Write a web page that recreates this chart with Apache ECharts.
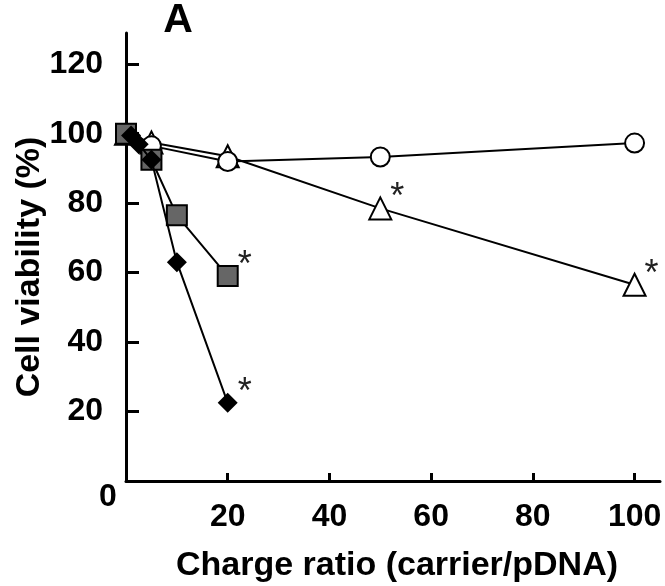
<!DOCTYPE html>
<html><head><meta charset="utf-8">
<script src="https://cdn.jsdelivr.net/npm/echarts@6/dist/echarts.min.js"></script>
<style>html,body{margin:0;padding:0;background:#fff}#c{width:665px;height:586px}</style>
</head><body><div id="c"></div>
<script>
// Data
const squareX = [0, 5, 10, 20];
const squareY = [100, 92.5, 76.5, 59];
const squareStarAt = [20];

const diamondX = [1, 2.5, 5, 10, 20];
const diamondY = [99.5, 97, 92.5, 63, 22.5];
const diamondStarAt = [20];

const triangleX = [0, 5, 20, 50, 100];
const triangleY = [100, 97.5, 93.5, 78.5, 56.5];
const triangleStarAt = [50, 100];

const circleX = [0, 5, 20, 50, 100];
const circleY = [100, 96.5, 92, 93.3, 97.3];
const circleStarAt = [];

const xTickLabels = [20, 40, 60, 80, 100];
const yTickLabels = [20, 40, 60, 80, 100, 120];

const FONT = "'Liberation Sans', Arial, sans-serif";

function build(xs, ys, stars) {
  return xs.map((x, i) => {
    const item = { value: [x, ys[i]] };
    if (stars.indexOf(x) >= 0) {
      item.label = {
        show: true, formatter: '*', position: 'inside', offset: [17, -10],
        fontSize: 36, color: '#222', fontFamily: FONT
      };
    }
    return item;
  });
}

const lineStyle = { color: '#000', width: 2 };

const chart = echarts.init(document.getElementById('c'), null, { renderer: 'canvas' });
chart.setOption({
  animation: false,
  backgroundColor: '#fff',
  grid: { left: 126, top: 33, right: 5, bottom: 105, containLabel: false, outerBoundsMode: 'none' },
  xAxis: {
    type: 'value', min: 0, max: 105,
    axisLine: { onZero: false, lineStyle: { color: '#000', width: 3 } },
    axisTick: { inside: true, length: 8, lineStyle: { color: '#000', width: 3 }, customValues: xTickLabels },
    axisLabel: { customValues: xTickLabels, margin: 20, fontFamily: FONT, fontWeight: 'bold', fontSize: 32, color: '#000' },
    splitLine: { show: false }
  },
  yAxis: {
    type: 'value', min: 0, max: 129,
    axisLine: { lineStyle: { color: '#000', width: 3 } },
    axisTick: { inside: true, length: 13, lineStyle: { color: '#000', width: 3 }, customValues: yTickLabels },
    axisLabel: { customValues: yTickLabels, margin: 23, fontFamily: FONT, fontWeight: 'bold', fontSize: 32, color: '#000' },
    splitLine: { show: false }
  },
  graphic: [
    { type: 'text', x: 178, y: 21, style: { text: 'A', font: "bold 41px 'Liberation Sans', Arial, sans-serif", fill: '#000', align: 'center', verticalAlign: 'middle' } },
    { type: 'text', x: 108, y: 497, style: { text: '0', font: "bold 32px 'Liberation Sans', Arial, sans-serif", fill: '#000', align: 'center', verticalAlign: 'middle' } },
    { type: 'text', x: 397, y: 566, style: { text: 'Charge ratio (carrier/pDNA)', font: "bold 34px 'Liberation Sans', Arial, sans-serif", fill: '#000', align: 'center', verticalAlign: 'middle' } },
    { type: 'text', x: 30, y: 267, rotation: Math.PI / 2, style: { text: 'Cell viability (%)', font: "bold 34px 'Liberation Sans', Arial, sans-serif", fill: '#000', align: 'center', verticalAlign: 'middle' } }
  ],
  series: [
    {
      type: 'line', name: 'triangle', data: build(triangleX, triangleY, triangleStarAt),
      symbol: 'triangle', symbolSize: 22, lineStyle: lineStyle, clip: false,
      itemStyle: { color: '#fff', borderColor: '#000', borderWidth: 2 }, z: 2
    },
    {
      type: 'line', name: 'circle', data: build(circleX, circleY, circleStarAt),
      symbol: 'circle', symbolSize: 19, lineStyle: lineStyle, clip: false,
      itemStyle: { color: '#fff', borderColor: '#000', borderWidth: 2 }, z: 3
    },
    {
      type: 'line', name: 'square', data: build(squareX, squareY, squareStarAt),
      symbol: 'rect', symbolSize: 20, lineStyle: lineStyle, clip: false,
      itemStyle: { color: '#666', borderColor: '#000', borderWidth: 2 }, z: 4
    },
    {
      type: 'line', name: 'diamond', data: build(diamondX, diamondY, diamondStarAt),
      symbol: 'diamond', symbolSize: 20, lineStyle: lineStyle, clip: false,
      itemStyle: { color: '#000', borderColor: '#000', borderWidth: 0 }, z: 5
    }
  ]
});
</script></body></html>
